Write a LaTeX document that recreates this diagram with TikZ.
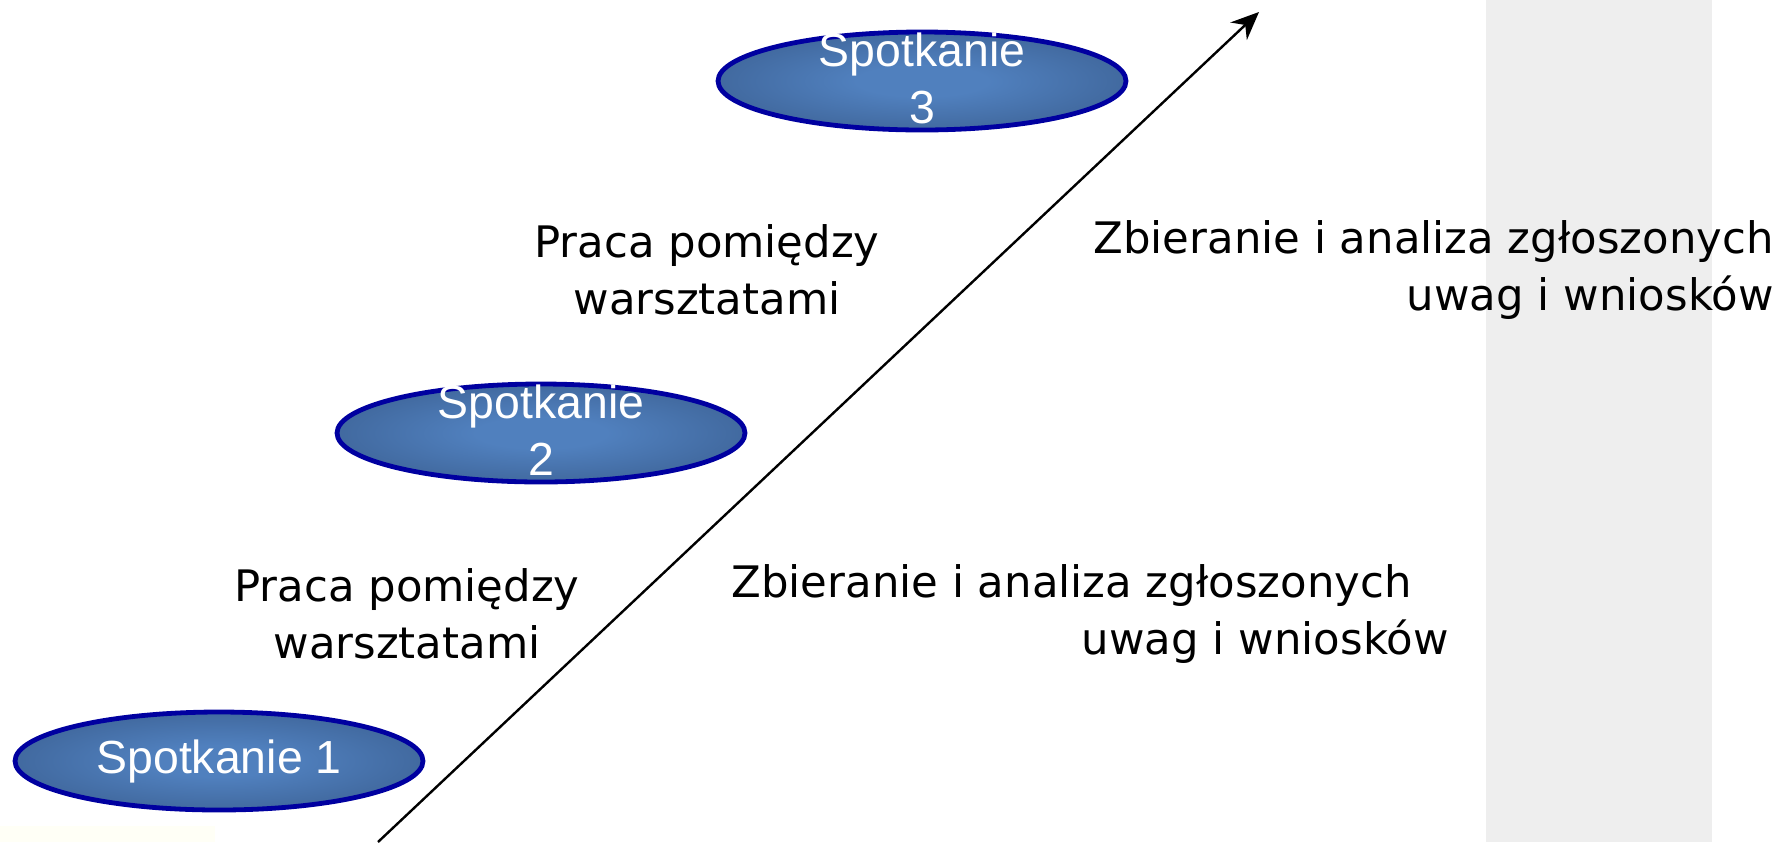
\documentclass[tikz,border=0pt]{standalone}
\usepackage{fontspec}
\setmainfont{DejaVu Sans}
\newfontfamily\arialfont{Liberation Sans}
\usetikzlibrary{shapes.geometric,arrows.meta}
\definecolor{meetin}{RGB}{80,128,190}
\definecolor{meetout}{RGB}{44,72,114}
\definecolor{meetborder}{RGB}{0,0,160}
\definecolor{stripgray}{RGB}{238,238,238}
\definecolor{faintyellow}{RGB}{255,255,246}
\pgfdeclareradialshading{meetshade}{\pgfpoint{0bp}{0bp}}{color(0bp)=(meetin); color(8bp)=(meetin); color(50bp)=(meetout)}
\begin{document}
\begin{tikzpicture}[x=0.5pt,y=-0.5pt,
  meet/.style={ellipse, draw=meetborder, line width=2.4pt, shading=meetshade, minimum width=204pt, minimum height=49pt, inner sep=0pt},
  meettext/.style={text=white, font=\arialfont\fontsize{23.2}{28.5}\selectfont, align=center, inner sep=0pt},
  note/.style={font=\fontsize{21.7}{28.5}\selectfont, inner sep=0pt},
  arr/.style={-{Stealth[length=14pt,width=12pt]}, line width=1.2pt}]
\fill[white] (0,0) rectangle (1781,842);
\useasboundingbox (0,0) rectangle (1781,842);
\fill[stripgray] (1486,0) rectangle (1712,842);
\fill[faintyellow] (0,826) rectangle (215,842);
% meetings
\node[meet] (m1) at (219,761) {};
\node[meettext] (t1) at (m1.center) {Spotkanie 1};
\node[meet] (m2) at (541,433) {};
\node[meettext] (t2) at ([yshift=1.5pt]m2.center) {Spotkanie\\2};
\node[meet] (m3) at (922,81) {};
\node[meettext] (t3) at ([yshift=1.5pt]m3.center) {Spotkanie\\3};
% arrow
\coordinate (as) at (378,842);
\coordinate (ae) at (1259,12);
\draw[arr] (as) -- (ae);
% notes
\node[note, align=center] (p1) at (407,614) {Praca pomiędzy\\warsztatami};
\node[note, align=center] (p2) at (707,270) {Praca pomiędzy\\warsztatami};
\node[note, align=right, anchor=east] (z1) at (1449,614) {Zbieranie i analiza zgłoszonych\kern18.5pt\\uwag i wniosków};
\node[note, align=right, anchor=east] (z2) at (1774,270) {Zbieranie i analiza zgłoszonych\\uwag i wniosków};
\end{tikzpicture}
\end{document}
